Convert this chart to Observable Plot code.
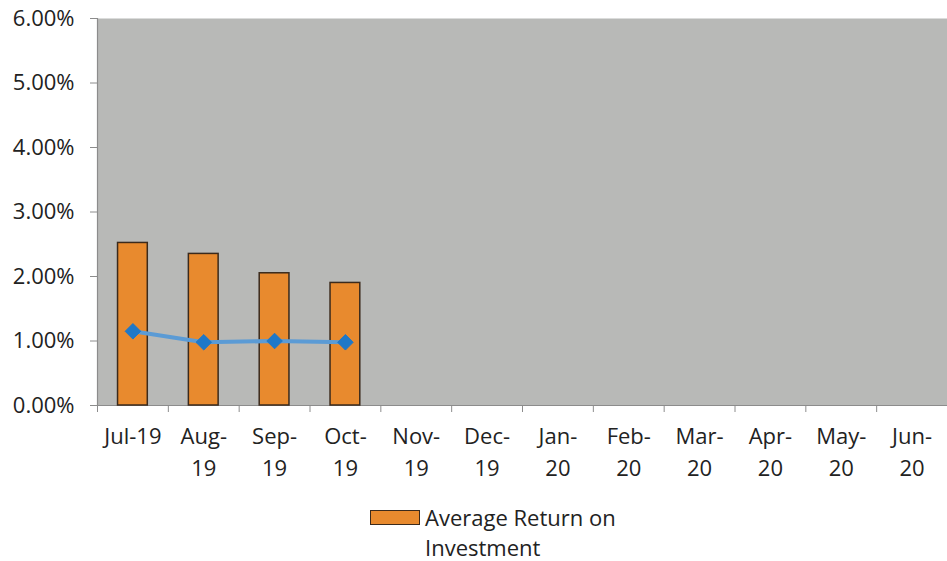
<!DOCTYPE html>
<html>
<head>
<meta charset="utf-8">
<script src="https://cdn.jsdelivr.net/npm/d3@7"></script>
<script src="https://cdn.jsdelivr.net/npm/@observablehq/plot@0.6"></script>
<style>
  body { margin: 0; background: #fff; font-family: "Open Sans", sans-serif; }
  #wrap { position: relative; width: 947px; height: 561px; }
  #legend { position: absolute; left: 370px; top: 502px; font-size: 22px; color: #222; line-height: 30px; }
  #legend .sw { position: absolute; left: 0; top: 8px; width: 48px; height: 13px; background: #e88a2e; border: 1.5px solid #3b2a1c; }
  #legend .tx { position: absolute; left: 55px; top: 0; white-space: nowrap; }
</style>
</head>
<body>
<div id="wrap"><div id="chart"></div>
<div id="legend"><div class="sw"></div><div class="tx">Average Return on<br>Investment</div></div>
</div>
<script>
const months = ["Jul-19","Aug-19","Sep-19","Oct-19","Nov-19","Dec-19","Jan-20","Feb-20","Mar-20","Apr-20","May-20","Jun-20"];
const reportedMonths = ["Jul-19","Aug-19","Sep-19","Oct-19"];
const avgReturn = [0.0252, 0.0235, 0.0205, 0.0190];
const benchmark = [0.0115, 0.0098, 0.0100, 0.0098];
const yTicks = [0, 0.01, 0.02, 0.03, 0.04, 0.05, 0.06];

const W = 947, H = 495, ML = 97, MR = 0, MT = 18, MB = 90;
const step = (W - ML - MR) / months.length;

const bars = reportedMonths.map((m, i) => ({month: m, value: avgReturn[i]}));
const pts = reportedMonths.map((m, i) => ({month: m, value: benchmark[i]}));

const labelFmt = m => m === "Jul-19" ? m : m.replace("-", "-\n");

const chart = Plot.plot({
  width: W, height: H,
  marginLeft: ML, marginRight: MR, marginTop: MT, marginBottom: MB,
  style: {fontFamily: "Open Sans, sans-serif", color: "#222", background: "transparent"},
  x: {domain: months, paddingInner: 0.58, paddingOuter: 0.29, round: false, label: null},
  y: {domain: [0, 0.06], label: null},
  marks: [
    Plot.frame({fill: "#b8b9b7", stroke: "none"}),
    Plot.ruleX([months[0]], {dx: -step / 2, stroke: "#8c8c8c", strokeWidth: 1.2}),
    Plot.ruleY([0], {stroke: "#8c8c8c", strokeWidth: 1.2}),
    Plot.axisY({ticks: yTicks, tickFormat: d3.format(".2%"), tickSize: 7, tickPadding: 16, fontSize: 22, stroke: "#8c8c8c", fill: "#222"}),
    Plot.axisX({tickSize: 7, tickFormat: null, dx: -step / 2, stroke: "#8c8c8c", label: null}),
    Plot.axisX({tickSize: 0, tickPadding: 16, tickFormat: labelFmt, fontSize: 22, lineHeight: 1.45, fill: "#222", label: null}),
    Plot.barY(bars, {x: "month", y: "value", fill: "#e88a2e", stroke: "#3b2a1c", strokeWidth: 1.5}),
    Plot.line(pts, {x: "month", y: "value", stroke: "#5b9bd5", strokeWidth: 4}),
    Plot.dot(pts, {x: "month", y: "value", symbol: "diamond2", r: 7, fill: "#1f78c8", stroke: "#1f78c8", strokeWidth: 1})
  ]
});
document.getElementById("chart").appendChild(chart);
</script>
</body>
</html>
